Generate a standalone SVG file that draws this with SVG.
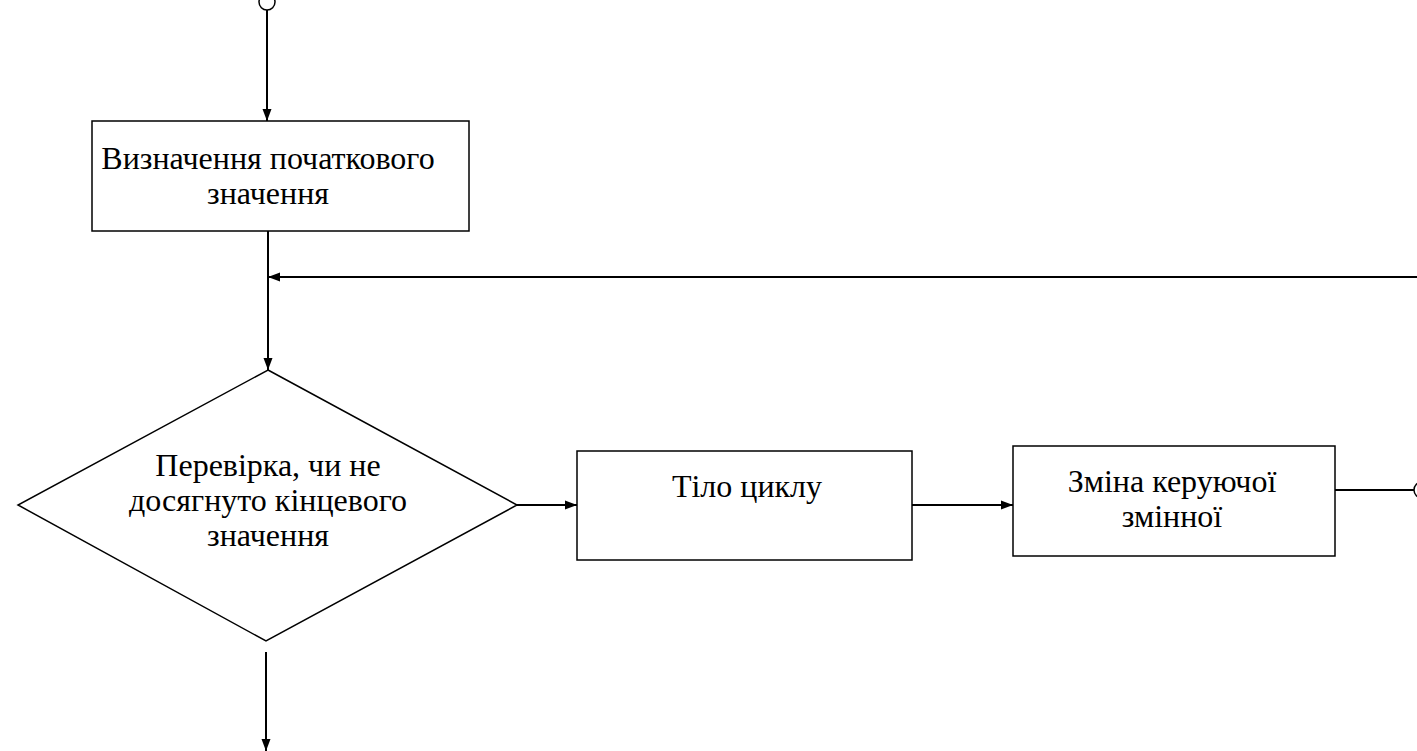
<svg xmlns="http://www.w3.org/2000/svg" width="1417" height="751" viewBox="0 0 1417 751">
<style>
.shape{fill:#fff;stroke:#000;stroke-width:1.5}
.line{fill:none;stroke:#000;stroke-width:2}
.t{font-family:"Liberation Serif","Times New Roman",serif;font-size:32px;fill:#000;text-anchor:middle}
</style>
<defs>
<marker id="arr" viewBox="0 0 12 10" refX="12" refY="5" markerWidth="12" markerHeight="10" markerUnits="userSpaceOnUse" orient="auto">
<path d="M0,0.5 L12,5 L0,9.5 Z" fill="#000"/>
</marker>
</defs>
<rect width="1417" height="751" fill="#fff"/>
<g id="connectors">
<circle cx="267" cy="2" r="8" class="shape"/>
<circle cx="1422" cy="490" r="8" class="shape"/>
<line x1="267" y1="10" x2="267" y2="121" class="line" marker-end="url(#arr)"/>
<line x1="268" y1="231" x2="268" y2="370" class="line" marker-end="url(#arr)"/>
<line x1="1417" y1="277" x2="268" y2="277" class="line" marker-end="url(#arr)"/>
<line x1="266" y1="652" x2="266" y2="751" class="line" marker-end="url(#arr)"/>
<line x1="517" y1="505" x2="577" y2="505" class="line" marker-end="url(#arr)"/>
<line x1="912" y1="505" x2="1013" y2="505" class="line" marker-end="url(#arr)"/>
<line x1="1335" y1="490" x2="1414" y2="490" class="line"/>
</g>
<g id="node-init">
<rect x="92" y="121" width="377" height="110" class="shape"/>
<text x="268" y="169" class="t">Визначення початкового</text>
<text x="268" y="204" class="t">значення</text>
</g>
<g id="node-check">
<polygon points="268,370 517,505 266,641 18,505" class="shape"/>
<text x="268" y="476" class="t">Перевірка, чи не</text>
<text x="268" y="511" class="t">досягнуто кінцевого</text>
<text x="268" y="546" class="t">значення</text>
</g>
<g id="node-body">
<rect x="577" y="451" width="335" height="109" class="shape"/>
<text x="747" y="497" class="t">Тіло циклу</text>
</g>
<g id="node-change">
<rect x="1013" y="446" width="322" height="110" class="shape"/>
<text x="1172" y="492" class="t">Зміна керуючої</text>
<text x="1172" y="527" class="t">змінної</text>
</g>
</svg>
